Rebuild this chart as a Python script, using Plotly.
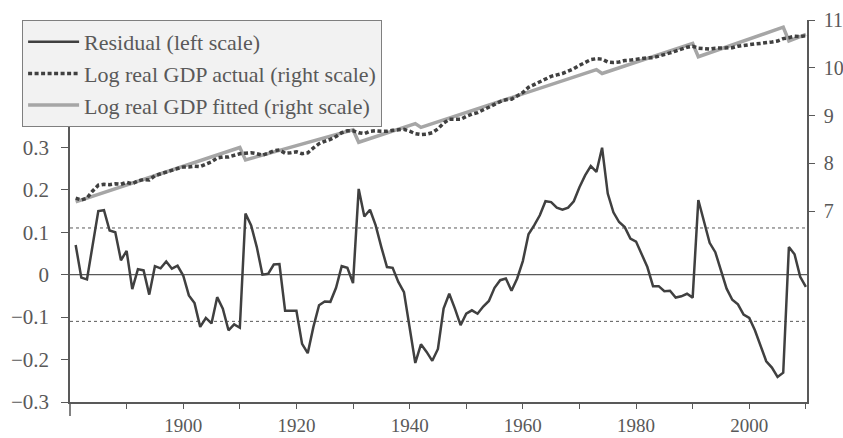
import plotly.graph_objects as go

years = list(range(1881, 2011))

residual = [
    0.07, -0.007, -0.011, 0.075, 0.15, 0.152, 0.104, 0.10, 0.034, 0.056,
    -0.034, 0.013, 0.010, -0.047, 0.02, 0.015, 0.031, 0.014, 0.021, -0.002,
    -0.049, -0.067, -0.123, -0.102, -0.115, -0.053, -0.08, -0.131, -0.117, -0.125,
    0.144, 0.116, 0.065, 0.0, 0.002, 0.024, 0.025, -0.085, -0.085, -0.085,
    -0.163, -0.185, -0.123, -0.072, -0.063, -0.064, -0.031, 0.02, 0.016, -0.02,
    0.202, 0.137, 0.153, 0.116, 0.065, 0.018, 0.016, -0.017, -0.041, -0.12,
    -0.208, -0.164, -0.182, -0.203, -0.175, -0.08, -0.045, -0.08, -0.119, -0.092,
    -0.084, -0.092, -0.075, -0.062, -0.031, -0.013, -0.009, -0.038, -0.009, 0.032,
    0.095, 0.116, 0.14, 0.173, 0.171, 0.158, 0.153, 0.158, 0.173, 0.206,
    0.234, 0.256, 0.242, 0.299, 0.191, 0.147, 0.124, 0.112, 0.085, 0.078,
    0.048, 0.018, -0.027, -0.027, -0.039, -0.038, -0.054, -0.051, -0.045, -0.054,
    0.176, 0.124, 0.075, 0.053, 0.01, -0.033, -0.059, -0.07, -0.094, -0.102,
    -0.131, -0.168, -0.204, -0.219, -0.241, -0.231, 0.065, 0.048, -0.005, -0.029,
]

gdp_actual = [
    7.27, 7.23, 7.27, 7.42, 7.54, 7.56, 7.55, 7.57, 7.56, 7.60,
    7.57, 7.63, 7.66, 7.65, 7.74, 7.78, 7.82, 7.85, 7.89, 7.92,
    7.92, 7.94, 7.93, 7.98, 8.03, 8.11, 8.13, 8.13, 8.17, 8.20,
    8.21, 8.22, 8.20, 8.17, 8.21, 8.26, 8.28, 8.21, 8.22, 8.24,
    8.20, 8.22, 8.32, 8.41, 8.46, 8.50, 8.56, 8.64, 8.68, 8.68,
    8.64, 8.62, 8.67, 8.68, 8.67, 8.67, 8.69, 8.70, 8.71, 8.67,
    8.62, 8.60, 8.61, 8.64, 8.72, 8.84, 8.92, 8.92, 8.92, 8.98,
    9.03, 9.06, 9.12, 9.17, 9.24, 9.29, 9.33, 9.34, 9.41, 9.48,
    9.59, 9.65, 9.71, 9.78, 9.82, 9.85, 9.88, 9.93, 9.98, 10.05,
    10.11, 10.17, 10.19, 10.18, 10.12, 10.11, 10.12, 10.15, 10.16, 10.18,
    10.20, 10.21, 10.21, 10.24, 10.27, 10.31, 10.35, 10.39, 10.43, 10.45,
    10.41, 10.40, 10.39, 10.41, 10.41, 10.41, 10.42, 10.45, 10.47, 10.49,
    10.50, 10.51, 10.52, 10.54, 10.56, 10.61, 10.63, 10.66, 10.65, 10.67,
]

fit_years = [1881, 1910, 1911, 1930, 1931, 1941, 1942, 1973, 1974, 1990, 1991, 2006, 2007, 2010]
gdp_fitted = [7.19, 8.33, 8.07, 8.70, 8.44, 8.83, 8.75, 9.96, 9.88, 10.51, 10.23, 10.85, 10.56, 10.70]

left_ticks = [-0.3, -0.2, -0.1, 0, 0.1, 0.2, 0.3]
left_labels = ["\u22120.3", "\u22120.2", "\u22120.1", "0", "0.1", "0.2", "0.3"]
right_ticks = [7, 8, 9, 10, 11]
right_labels = ["7", "8", "9", "10", "11"]
x_ticks = [1890, 1900, 1910, 1920, 1930, 1940, 1950, 1960, 1970, 1980, 1990, 2000, 2010]
x_labels = ["", "1900", "", "1920", "", "1940", "", "1960", "", "1980", "", "2000", ""]
band = 0.11

FONT = "Liberation Serif"
TXT = "#595959"
AX = "#595959"

fig = go.Figure()
fig.add_trace(go.Scatter(x=years, y=residual, mode="lines", name="Residual (left scale)",
                         line=dict(color="#404040", width=2.5), yaxis="y"))
fig.add_trace(go.Scatter(x=fit_years, y=gdp_fitted, mode="lines", name="Log real GDP fitted (right scale)",
                         line=dict(color="#a6a6a6", width=3.5), yaxis="y2"))
fig.add_trace(go.Scatter(x=years, y=gdp_actual, mode="lines", name="Log real GDP actual (right scale)",
                         line=dict(color="#404040", width=3.5, dash="4px,2.5px"), yaxis="y2"))

shapes = [
    dict(type="line", xref="paper", yref="y", x0=0, x1=1, y0=0, y1=0,
         line=dict(color=AX, width=1.3), layer="below"),
    dict(type="line", xref="paper", yref="y", x0=0, x1=1, y0=band, y1=band,
         line=dict(color=AX, width=1, dash="3px,3px"), layer="below"),
    dict(type="line", xref="paper", yref="y", x0=0, x1=1, y0=-band, y1=-band,
         line=dict(color=AX, width=1, dash="3px,3px"), layer="below"),
    dict(type="line", xref="paper", yref="paper", x0=0, x1=0, y0=0, y1=-14/381.7,
         line=dict(color=AX, width=1.5)),
]

fig.update_layout(
    width=843, height=438,
    margin=dict(l=70, r=36, t=20, b=36.3, autoexpand=False),
    paper_bgcolor="white", plot_bgcolor="white",
    font=dict(family=FONT, size=21, color=TXT),
    showlegend=True,
    legend=dict(x=-0.065, y=1, xanchor="left", yanchor="top",
                bgcolor="#f2f2f2", bordercolor="#7f7f7f", borderwidth=1,
                font=dict(family=FONT, size=22, color=TXT),
                itemwidth=51, traceorder="normal", tracegroupgap=0),
    xaxis=dict(range=[1880, 2010.2], tickvals=x_ticks, ticktext=x_labels,
               showline=True, linecolor=AX, linewidth=1.5, ticks="outside",
               ticklen=5, tickcolor=AX, tickwidth=1.3, showgrid=False, zeroline=False,
               ticklabelstandoff=0, automargin=False,
               tickfont=dict(family=FONT, size=19, color=TXT)),
    yaxis=dict(range=[-0.3, 0.6], tickvals=left_ticks, ticktext=left_labels,
               showline=True, linecolor=AX, linewidth=1.5, ticks="outside",
               ticklen=7, tickcolor=AX, tickwidth=1.3, showgrid=False, zeroline=False,
               ticklabelstandoff=8, automargin=False),
    yaxis2=dict(range=[3, 11], tickvals=right_ticks, ticktext=right_labels,
                overlaying="y", side="right", anchor="x",
                showline=True, linecolor=AX, linewidth=1.5, ticks="outside",
                ticklen=6, tickcolor=AX, tickwidth=1.3, showgrid=False, zeroline=False,
                ticklabelstandoff=5, automargin=False,
                tickfont=dict(family=FONT, size=20, color=TXT)),
    shapes=shapes,
)

fig.data[0].legendrank = 1
fig.data[2].legendrank = 2
fig.data[1].legendrank = 3

fig.write_html("out.html", config={"displayModeBar": False},
               post_script="document.body.style.margin='0';document.body.style.padding='0';")
